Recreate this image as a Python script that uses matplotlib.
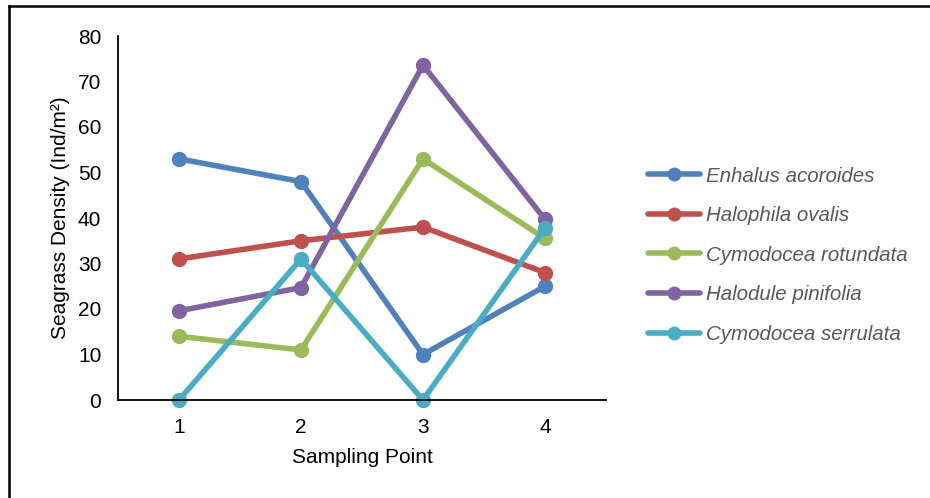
import matplotlib
matplotlib.use("Agg")
import matplotlib.pyplot as plt
from matplotlib.lines import Line2D

plt.rcParams['font.family'] = ['Liberation Sans', 'DejaVu Sans']

points = ["1", "2", "3", "4"]
enhalus = [53, 48, 10, 25]
halophila = [31, 35, 38, 28]
cym_rotundata = [14, 11, 53, 35.5]
halodule = [19.6, 24.7, 73.6, 39.7]
cym_serrulata = [0, 31, 0, 37.8]

series = [
    ("Enhalus acoroides", enhalus, "#4F81BD"),
    ("Halophila ovalis", halophila, "#C0504D"),
    ("Cymodocea rotundata", cym_rotundata, "#9BBB59"),
    ("Halodule pinifolia", halodule, "#8064A2"),
    ("Cymodocea serrulata", cym_serrulata, "#4BACC6"),
]

W, H = 930, 498
fig = plt.figure(figsize=(W / 100, H / 100), dpi=100)
ax = fig.add_axes([118 / W, 1 - 400 / H, (606 - 118) / W, (400 - 36) / H])

x = list(range(1, len(points) + 1))
for name, vals, col in series:
    ax.plot(x, vals, color=col, lw=4.0, marker='o', markersize=10,
            label=name, solid_capstyle='round', clip_on=False)

ax.set_xlim(0.5, 4.5)
ax.set_ylim(0, 80)
ax.set_xticks(x)
ax.set_xticklabels(points)
ax.set_yticks(range(0, 81, 10))
ax.tick_params(axis='both', length=0, labelsize=15, colors='black')
ax.tick_params(axis='y', pad=12)
ax.tick_params(axis='x', pad=13)
for s in ['top', 'right']:
    ax.spines[s].set_visible(False)
for s in ['left', 'bottom']:
    ax.spines[s].set_color('black')
    ax.spines[s].set_linewidth(1.3)

ax.set_xlabel("Sampling Point", fontsize=15, labelpad=8)
ax.set_ylabel("Seagrass Density (Ind/m²)", fontsize=15, labelpad=6)

leg = fig.legend(loc='upper left', bbox_to_anchor=(629 / W, 1 - 148 / H),
                 frameon=False, handlelength=2.55, handletextpad=0.3,
                 labelspacing=1.0, prop={'style': 'italic', 'size': 14.8})
for t in leg.get_texts():
    t.set_color('#595959')
for h in leg.get_lines():
    h.set_markersize(9)

fig.add_artist(Line2D([9 / W, 9 / W], [0, 1 - 6 / H], transform=fig.transFigure,
                      color='black', lw=1.8))
fig.add_artist(Line2D([9 / W, 1], [1 - 6 / H, 1 - 6 / H], transform=fig.transFigure,
                      color='black', lw=1.8))

fig.savefig("out.png", dpi=100)
